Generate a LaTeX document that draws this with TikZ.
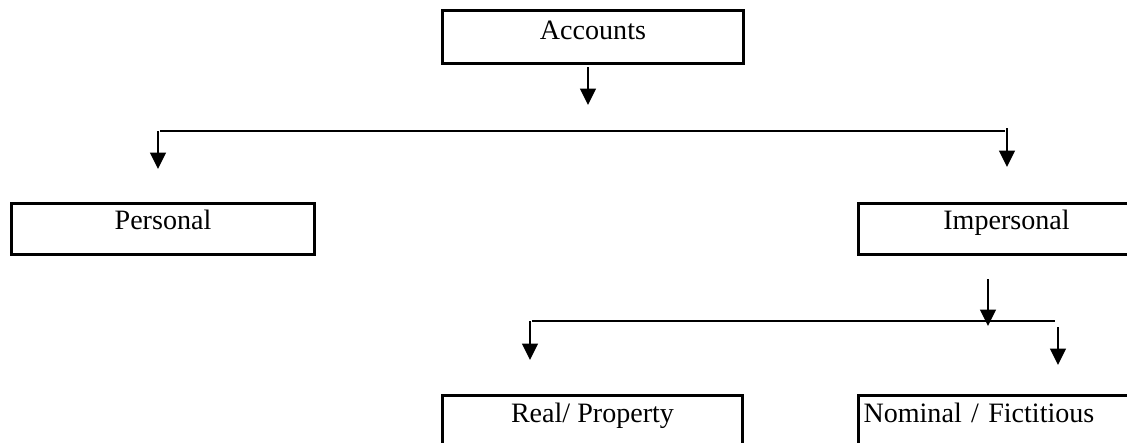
\documentclass[tikz,border=0pt]{standalone}
\usepackage{fontspec}
\setmainfont{Liberation Serif}
\usetikzlibrary{arrows.meta}

\begin{document}
\begin{tikzpicture}[x=0.4274pt,y=-0.4274pt,->,>={Triangle[width=6.6pt,length=7pt]},line width=1.15pt,acct node/.style={draw,rectangle,line width=1.3pt,inner sep=0pt,anchor=north west,font=\fontsize{12}{14}\selectfont,text height=11.1pt,text depth=10.7pt}]
            \useasboundingbox (0,0) rectangle (1127,443);
            \clip (0,0) rectangle (1127,443);

            \node[acct node,minimum width=128.6pt,text height=12.4pt,text depth=10.3pt] (acc) at (441,9) {Accounts};

            \node[acct node,minimum width=129.5pt] (pers) at (10,202) {Personal};
            \node[acct node,minimum width=126.5pt] (imp) at (857,202) {Impersonal};

            \node[acct node,minimum width=128.2pt,text height=11.5pt,text depth=11pt] (real) at (441,394) {Real/ Property};
            \node[acct node,text width=122.2pt,inner xsep=2.14pt,align=left,text height=11.5pt,text depth=11pt] (nom) at (857,394) {Nominal / Fictitious};

            \coordinate (a1) at (588,67);   \coordinate (a2) at (588,105);
            \coordinate (l1) at (160,131);  \coordinate (r1) at (1005,131);
            \coordinate (p1) at (158,131);  \coordinate (p2) at (158,169);
            \coordinate (i1) at (1007,128); \coordinate (i2) at (1007,167);
            \coordinate (b1) at (988,279);  \coordinate (b2) at (988,326);
            \coordinate (l2) at (532,321);  \coordinate (r2) at (1055,321);
            \coordinate (q1) at (530,321);  \coordinate (q2) at (530,360);
            \coordinate (n1) at (1058,327); \coordinate (n2) at (1058,365);

            \path
                (a1) edge (a2)
                (l1) edge[-,line width=0.9pt] (r1)
                (p1) edge (p2)
                (i1) edge (i2)
                (b1) edge (b2)
                (l2) edge[-,line width=0.9pt] (r2)
                (q1) edge (q2)
                (n1) edge (n2)
                ;
        \end{tikzpicture}
\end{document}
